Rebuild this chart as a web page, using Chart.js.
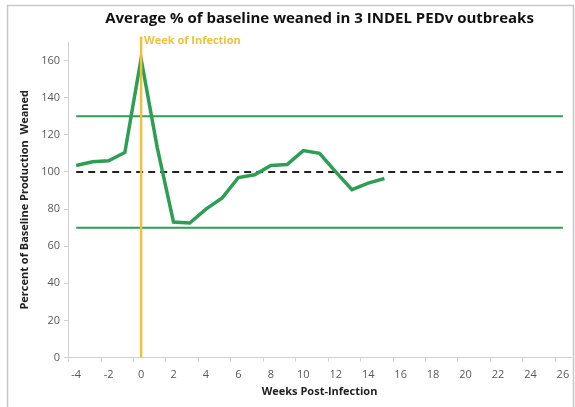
<!DOCTYPE html>
<html lang="en">
<head>
  <meta charset="UTF-8">
  <title>Average % of baseline weaned in 3 INDEL PEDv outbreaks</title>
  <script src="https://cdn.jsdelivr.net/npm/chart.js"></script>
  <style>
    body { margin: 0; background: #fff; }
    #wrap { width: 575px; height: 407px; position: relative; }
  </style>
</head>
<body>
  <div id="wrap"><canvas id="pedChart"></canvas></div>

  <script>
    // Values
    var weeks = [-4, -3, -2, -1, 0, 1, 2, 3, 4, 5, 6, 7, 8, 9, 10, 11, 12, 13, 14, 15];
    var pctWeaned = [103.5, 105.5, 106, 110.5, 161, 113, 73, 72.5, 80, 86, 97, 98.5, 103.5, 104, 111.5, 110, 100, 90.5, 94, 96.5];
    var upperBound = 130;
    var lowerBound = 70;
    var baseline = 100;
    var xRange = [-4, 26];
    var infectionWeek = 0;
    var yTicks = [0, 20, 40, 60, 80, 100, 120, 140, 160];
    var xTicks = [-4, -2, 0, 2, 4, 6, 8, 10, 12, 14, 16, 18, 20, 22, 24, 26];

    var gold = '#EDC23A';
    var green = '#2E9E55';
    var font = "'Open Sans', 'Liberation Sans', sans-serif";

    function hLine(y) {
      return [{ x: xRange[0], y: y }, { x: xRange[1], y: y }];
    }

    // Title, outer frame, x tick marks between labels and the "Week of Infection" label
    var extras = {
      id: 'extras',
      beforeDraw: function (chart) {
        var c = chart.ctx;
        c.save();
        c.strokeStyle = '#c8c8c8';
        c.lineWidth = 1.5;
        c.strokeRect(7.5, 5.5, 566, 410);
        c.restore();
      },
      afterDraw: function (chart) {
        var c = chart.ctx;
        var area = chart.chartArea;
        var xs = chart.scales.x;
        c.save();
        c.strokeStyle = '#d0d0d0';
        c.lineWidth = 1;
        xTicks.forEach(function (v) {
          var px = Math.round(xs.getPixelForValue(v - 0.5)) + 0.5;
          c.beginPath();
          c.moveTo(px, area.bottom);
          c.lineTo(px, area.bottom + 4);
          c.stroke();
        });
        c.fillStyle = '#111';
        c.font = 'bold 15px ' + font;
        c.textAlign = 'center';
        c.textBaseline = 'middle';
        c.fillText('Average % of baseline weaned in 3 INDEL PEDv outbreaks', (area.left + area.right) / 2, 19);
        c.fillStyle = gold;
        c.font = 'bold 11px ' + font;
        c.textAlign = 'left';
        c.fillText('Week of Infection', xs.getPixelForValue(infectionWeek) + 3, 41);
        c.restore();
      }
    };

    var ctx = document.getElementById('pedChart').getContext('2d');
    var pedChart = new Chart(ctx, {
      type: 'scatter',
      data: {
        datasets: [
          {
            label: 'Week of Infection',
            data: [{ x: infectionWeek, y: 0 }, { x: infectionWeek, y: 173 }],
            showLine: true, borderColor: gold, borderWidth: 2.5, pointRadius: 0, clip: false, order: 0
          },
          {
            label: 'Percent weaned',
            data: weeks.map(function (w, i) { return { x: w, y: pctWeaned[i] }; }),
            showLine: true, borderColor: green, borderWidth: 3.5, pointRadius: 0, order: 1
          },
          {
            label: 'Upper',
            data: hLine(upperBound),
            showLine: true, borderColor: green, borderWidth: 2, pointRadius: 0, order: 2
          },
          {
            label: 'Lower',
            data: hLine(lowerBound),
            showLine: true, borderColor: green, borderWidth: 2, pointRadius: 0, order: 2
          },
          {
            label: 'Baseline',
            data: hLine(baseline),
            showLine: true, borderColor: '#222', borderWidth: 2, borderDash: [7, 5], pointRadius: 0, order: 2
          }
        ]
      },
      options: {
        responsive: true,
        maintainAspectRatio: false,
        animation: false,
        layout: { padding: { left: 14, right: 4, top: 42, bottom: 9 } },
        plugins: { legend: { display: false }, tooltip: { enabled: false } },
        scales: {
          x: {
            min: -4.5, max: 26.5,
            afterBuildTicks: function (s) { s.ticks = xTicks.map(function (v) { return { value: v }; }); },
            ticks: { color: '#595959', font: { family: font, size: 11 }, maxRotation: 0, autoSkip: false, padding: 3 },
            grid: { display: false },
            border: { color: '#d0d0d0', width: 1 },
            title: { display: true, text: 'Weeks Post-Infection', color: '#222', font: { family: font, size: 11, weight: 'bold' }, padding: { top: 0, bottom: 0 } }
          },
          y: {
            min: 0, max: 170,
            afterBuildTicks: function (s) { s.ticks = yTicks.map(function (v) { return { value: v }; }); },
            ticks: { color: '#595959', font: { family: font, size: 11 }, padding: 4 },
            grid: { drawOnChartArea: false, tickLength: 4, color: '#d0d0d0' },
            border: { color: '#d0d0d0', width: 1 },
            title: { display: true, text: 'Percent of Baseline Production  Weaned', color: '#222', font: { family: font, size: 11, weight: 'bold' }, padding: { bottom: 6 } }
          }
        }
      },
      plugins: [extras]
    });
  </script>
</body>
</html>
